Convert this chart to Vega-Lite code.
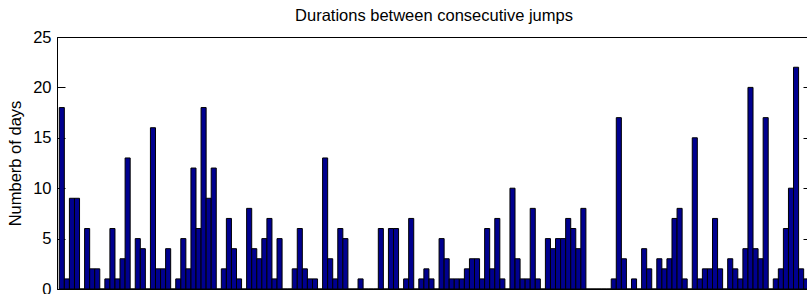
{
  "$schema": "https://vega.github.io/schema/vega-lite/v6.json",
  "width": 754,
  "height": 252,
  "autosize": {"type": "none"},
  "padding": {"left": 57, "top": 37, "right": 0, "bottom": 10},
  "background": "white",
  "title": {
    "text": "Durations between consecutive jumps",
    "font": "Liberation Sans",
    "fontSize": 16.5,
    "fontWeight": "normal",
    "color": "#000000",
    "anchor": "middle",
    "offset": 5
  },
  "data": {
    "values": [
      {"i":1,"d":18},{"i":2,"d":1},{"i":3,"d":9},{"i":4,"d":9},{"i":5,"d":0},{"i":6,"d":6},{"i":7,"d":2},{"i":8,"d":2},{"i":9,"d":0},{"i":10,"d":1},
      {"i":11,"d":6},{"i":12,"d":1},{"i":13,"d":3},{"i":14,"d":13},{"i":15,"d":0},{"i":16,"d":5},{"i":17,"d":4},{"i":18,"d":0},{"i":19,"d":16},{"i":20,"d":2},
      {"i":21,"d":2},{"i":22,"d":4},{"i":23,"d":0},{"i":24,"d":1},{"i":25,"d":5},{"i":26,"d":2},{"i":27,"d":12},{"i":28,"d":6},{"i":29,"d":18},{"i":30,"d":9},
      {"i":31,"d":12},{"i":32,"d":0},{"i":33,"d":2},{"i":34,"d":7},{"i":35,"d":4},{"i":36,"d":1},{"i":37,"d":0},{"i":38,"d":8},{"i":39,"d":4},{"i":40,"d":3},
      {"i":41,"d":5},{"i":42,"d":7},{"i":43,"d":1},{"i":44,"d":5},{"i":45,"d":0},{"i":46,"d":0},{"i":47,"d":2},{"i":48,"d":6},{"i":49,"d":2},{"i":50,"d":1},
      {"i":51,"d":1},{"i":52,"d":0},{"i":53,"d":13},{"i":54,"d":3},{"i":55,"d":1},{"i":56,"d":6},{"i":57,"d":5},{"i":58,"d":0},{"i":59,"d":0},{"i":60,"d":1},
      {"i":61,"d":0},{"i":62,"d":0},{"i":63,"d":0},{"i":64,"d":6},{"i":65,"d":0},{"i":66,"d":6},{"i":67,"d":6},{"i":68,"d":0},{"i":69,"d":1},{"i":70,"d":7},
      {"i":71,"d":0},{"i":72,"d":1},{"i":73,"d":2},{"i":74,"d":1},{"i":75,"d":0},{"i":76,"d":5},{"i":77,"d":3},{"i":78,"d":1},{"i":79,"d":1},{"i":80,"d":1},
      {"i":81,"d":2},{"i":82,"d":3},{"i":83,"d":3},{"i":84,"d":1},{"i":85,"d":6},{"i":86,"d":2},{"i":87,"d":7},{"i":88,"d":1},{"i":89,"d":0},{"i":90,"d":10},
      {"i":91,"d":3},{"i":92,"d":1},{"i":93,"d":1},{"i":94,"d":8},{"i":95,"d":1},{"i":96,"d":0},{"i":97,"d":5},{"i":98,"d":4},{"i":99,"d":5},{"i":100,"d":5},
      {"i":101,"d":7},{"i":102,"d":6},{"i":103,"d":4},{"i":104,"d":8},{"i":105,"d":0},{"i":106,"d":0},{"i":107,"d":0},{"i":108,"d":0},{"i":109,"d":0},{"i":110,"d":1},
      {"i":111,"d":17},{"i":112,"d":3},{"i":113,"d":0},{"i":114,"d":1},{"i":115,"d":0},{"i":116,"d":4},{"i":117,"d":2},{"i":118,"d":0},{"i":119,"d":3},{"i":120,"d":2},
      {"i":121,"d":3},{"i":122,"d":7},{"i":123,"d":8},{"i":124,"d":1},{"i":125,"d":0},{"i":126,"d":15},{"i":127,"d":1},{"i":128,"d":2},{"i":129,"d":2},{"i":130,"d":7},
      {"i":131,"d":2},{"i":132,"d":0},{"i":133,"d":3},{"i":134,"d":2},{"i":135,"d":1},{"i":136,"d":4},{"i":137,"d":20},{"i":138,"d":4},{"i":139,"d":3},{"i":140,"d":17},
      {"i":141,"d":0},{"i":142,"d":1},{"i":143,"d":2},{"i":144,"d":6},{"i":145,"d":10},{"i":146,"d":22},{"i":147,"d":2},{"i":148,"d":1}
    ]
  },
  "encoding": {
    "x": {
      "field": "i",
      "type": "ordinal",
      "sort": null,
      "scale": {"paddingInner": 0, "paddingOuter": 0.45},
      "axis": null
    }
  },
  "layer": [
    {
      "mark": {"type": "bar", "fill": "#00008F", "stroke": "#000000", "strokeWidth": 1},
      "encoding": {
        "y": {
          "field": "d",
          "type": "quantitative",
          "scale": {"domain": [0, 25], "nice": false},
          "axis": {
            "title": "Numberb of days",
            "values": [0, 5, 10, 15, 20, 25],
            "grid": false,
            "tickSize": -8,
            "tickColor": "#000000",
            "domainColor": "#000000",
            "labelColor": "#000000",
            "labelFont": "Liberation Sans",
            "labelFontSize": 16.5,
            "labelPadding": 14,
            "titleFont": "Liberation Sans",
            "titleFontSize": 16.5,
            "titleFontWeight": "normal",
            "titleColor": "#000000",
            "titlePadding": 9
          }
        }
      }
    },
    {
      "mark": {"type": "bar", "opacity": 0},
      "encoding": {
        "y": {
          "field": "d",
          "type": "quantitative",
          "scale": {"domain": [0, 25], "nice": false},
          "axis": {
            "orient": "right",
            "title": null,
            "labels": false,
            "domain": false,
            "grid": false,
            "values": [0, 5, 10, 15, 20, 25],
            "tickSize": -8,
            "tickColor": "#000000"
          }
        }
      }
    }
  ],
  "resolve": {"scale": {"y": "independent"}, "axis": {"y": "independent"}},
  "config": {
    "view": {"stroke": "#000000", "strokeWidth": 1}
  }
}
